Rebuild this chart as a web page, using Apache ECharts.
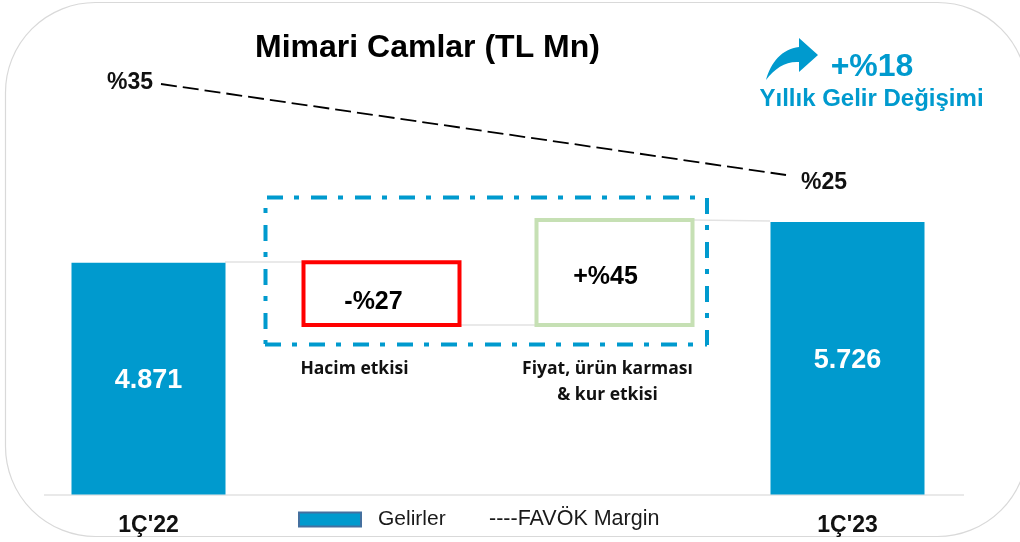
<!DOCTYPE html>
<html><head><meta charset="utf-8">
<style>html,body{margin:0;padding:0;background:#fff;overflow:hidden}#c{width:1020px;height:542px}</style>
<script src="https://cdn.jsdelivr.net/npm/echarts@6/dist/echarts.min.js"></script>
</head><body><div id="c"></div>
<script>
const categories = ["1Ç'22", "Hacim etkisi", "Fiyat, ürün karması\n& kur etkisi", "1Ç'23"];
const revenue = [4871, null, null, 5726];
const revenueLabels = ["4.871", "", "", "5.726"];
const bridgeBase = [null, 3520, 3520, null];
const volumeEffect = [null, 1405, null, null];
const priceEffect = [null, null, 2290, null];
const effectLabels = ["-%27", "+%45"];
const marginPeriods = ["1Ç'22", "1Ç'23"];
const marginValues = [35, 25];
const marginLabels = ["%35", "%25"];
const titleText = "Mimari Camlar (TL Mn)";
const changeValue = "+%18";
const changeText = "Yıllık Gelir Değişimi";
const BLUE = "#009ACE", FONT = "'Liberation Sans', Arial, sans-serif", NOTE = "'Open Sans', sans-serif";
echarts.graphic.registerShape('swoosh', echarts.graphic.extendShape({
  buildPath(ctx) {
    ctx.moveTo(766, 80);
    ctx.bezierCurveTo(771, 62, 782, 49, 799, 47);
    ctx.lineTo(799, 38); ctx.lineTo(818, 55); ctx.lineTo(799, 72); ctx.lineTo(799, 62);
    ctx.bezierCurveTo(786, 61, 775, 68, 766, 80);
    ctx.closePath();
  }
}));
const chart = echarts.init(document.getElementById('c'), null, {renderer: 'canvas'});
const greyLine = (x1, y1, x2, y2) => ({type: 'line', z: 1, shape: {x1, y1, x2, y2}, style: {stroke: '#e2e2e2', lineWidth: 1.5}});
const dashLine = (x1, y1, x2, y2, off) => ({type: 'line', z: 5, shape: {x1, y1, x2, y2},
  style: {stroke: BLUE, lineWidth: 4, lineDash: [16, 11, 5, 12], lineDashOffset: off}});
chart.setOption({
  animation: false,
  backgroundColor: '#fff',
  title: {text: titleText, left: 255, top: 32, padding: 0,
    textStyle: {fontFamily: FONT, fontWeight: 'bold', fontSize: 32, color: '#000'}},
  legend: [
    {data: ['Gelirler'], left: 298, top: 509, padding: 0, itemWidth: 62, itemHeight: 14, itemGap: 0, selectedMode: false, icon: 'rect',
     itemStyle: {borderColor: '#44709f', borderWidth: 2},
     textStyle: {fontFamily: FONT, fontSize: 21, color: '#1a1a1a', padding: [0, 0, 6, 12]}},
    {data: ['FAVÖK Margin'], left: 484, top: 508, padding: 0, itemWidth: 0, itemHeight: 0, selectedMode: false, icon: 'none',
     formatter: n => '----' + n,
     textStyle: {fontFamily: FONT, fontSize: 21.5, color: '#1a1a1a', padding: 0}}
  ],
  grid: [
    {left: 32, width: 932, top: 209, height: 285.5},
    {left: 161, width: 625, top: 84, height: 91}
  ],
  xAxis: [
    {type: 'category', gridIndex: 0, data: categories, axisLine: {show: false}, axisTick: {show: false},
     axisLabel: {interval: 0, margin: 20, fontFamily: FONT, fontWeight: 'bold', fontSize: 23, color: '#111',
       formatter: v => v.startsWith('1Ç') ? v : ''}},
    {type: 'category', gridIndex: 1, data: marginPeriods, boundaryGap: false, show: false},
    {type: 'category', gridIndex: 0, data: categories, show: false}
  ],
  yAxis: [
    {type: 'value', gridIndex: 0, min: 0, max: 6000, show: false},
    {type: 'value', gridIndex: 1, min: 25, max: 35, show: false}
  ],
  series: [
    {name: 'Gelirler', type: 'bar', barWidth: 154, data: revenue,
     itemStyle: {color: BLUE},
     label: {show: true, position: 'inside', offset: [0, 2], formatter: p => revenueLabels[p.dataIndex],
       fontFamily: FONT, fontWeight: 'bold', fontSize: 27, color: '#fff'}},
    {name: 'Taban', type: 'bar', xAxisIndex: 2, stack: 'b', barWidth: 160, itemStyle: {color: 'transparent'},
     data: bridgeBase.map((v, i) => v === null ? null : {value: v, label: {offset: [i === 1 ? -27 : -7, 24]}}),
     label: {show: true, position: 'insideTop', fontFamily: NOTE, fontWeight: 'bold', fontSize: 17.5, color: '#111', lineHeight: 26,
       formatter: p => categories[p.dataIndex]},
     emphasis: {disabled: true}},
    {name: 'Hacim', type: 'bar', xAxisIndex: 2, stack: 'b', barWidth: 160, data: volumeEffect,
     itemStyle: {color: 'transparent', borderColor: '#FF0000', borderWidth: 4},
     label: {show: true, position: 'inside', formatter: () => effectLabels[0], offset: [-8, 9],
       fontFamily: FONT, fontWeight: 'bold', fontSize: 25, color: '#000'}},
    {name: 'Fiyat', type: 'bar', xAxisIndex: 2, stack: 'b', barWidth: 160, data: priceEffect,
     itemStyle: {color: 'transparent', borderColor: '#C6E0B4', borderWidth: 4},
     label: {show: true, position: 'inside', formatter: () => effectLabels[1], offset: [-9, 5],
       fontFamily: FONT, fontWeight: 'bold', fontSize: 25, color: '#000'}},
    {name: 'FAVÖK Margin', type: 'line', xAxisIndex: 1, yAxisIndex: 1, symbol: 'circle', symbolSize: 0, showSymbol: true,
     lineStyle: {color: '#000', width: 1.8, type: [16, 6]},
     data: [
       {value: marginValues[0], label: {show: true, position: 'left', distance: 8, offset: [0, -1]}},
       {value: marginValues[1], label: {show: true, position: 'right', distance: 15, offset: [0, 8]}}
     ],
     label: {fontFamily: FONT, fontWeight: 'bold', fontSize: 23, color: '#111', formatter: p => marginLabels[p.dataIndex]}}
  ],
  graphic: [
    {type: 'rect', z: 0, shape: {x: 5.5, y: 2.5, width: 1022, height: 534, r: 90}, style: {fill: 'none', stroke: '#d9d9d9', lineWidth: 1.2}},
    greyLine(44, 495, 964, 495),
    greyLine(225, 262, 302, 262),
    greyLine(460, 325, 535, 325),
    greyLine(693, 220, 770, 221),
    dashLine(267, 197.5, 705, 197.5, 0),
    dashLine(707, 198, 707, 345, 0),
    dashLine(265, 344.5, 707, 344.5, 0),
    dashLine(265.5, 198, 265.5, 344, 17),
    {type: 'swoosh', z: 5, shape: {}, style: {fill: BLUE}},
    {type: 'text', z: 5, style: {text: changeValue, x: 872, y: 67, align: 'center', verticalAlign: 'middle',
       font: "bold 32px " + FONT, fill: BLUE}},
    {type: 'text', z: 5, style: {text: changeText, x: 871.5, y: 99, align: 'center', verticalAlign: 'middle',
       font: "bold 24px " + FONT, fill: BLUE}}
  ]
});
</script></body></html>
